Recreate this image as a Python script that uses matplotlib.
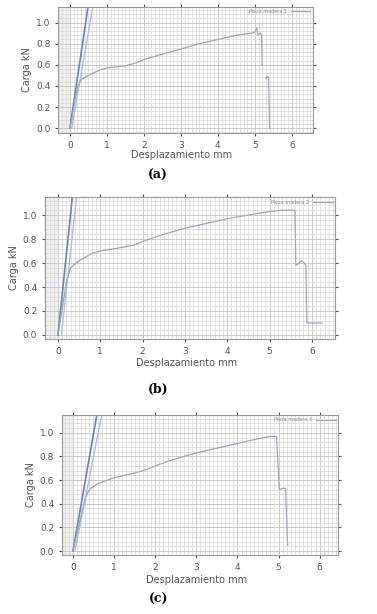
import numpy as np
import matplotlib.pyplot as plt
from matplotlib.ticker import MultipleLocator

# load-displacement curves
x_a = [0.0, 0.05, 0.1, 0.2, 0.3, 0.5, 0.8, 1.0, 1.2, 1.5, 1.8, 2.0, 2.5, 3.0,
       3.5, 4.0, 4.5, 4.9, 5.0, 5.05, 5.08, 5.15, 5.18, 5.2, 5.2]
y_a = [0.0, 0.08, 0.2, 0.38, 0.46, 0.50, 0.55, 0.57, 0.58, 0.59, 0.62, 0.65,
       0.70, 0.75, 0.80, 0.84, 0.88, 0.90, 0.91, 0.95, 0.88, 0.90, 0.88, 0.60, 0.60]
x_a2 = [5.3, 5.33, 5.37, 5.40]
y_a2 = [0.47, 0.49, 0.48, 0.0]

x_b = [0.0, 0.1, 0.2, 0.3, 0.5, 0.8, 1.0, 1.5, 1.8, 2.0, 2.5, 3.0, 3.5, 4.0,
       4.5, 5.0, 5.3, 5.6, 5.62, 5.7, 5.75, 5.82, 5.86, 5.88, 6.24]
y_b = [0.0, 0.22, 0.45, 0.56, 0.62, 0.68, 0.70, 0.73, 0.75, 0.78, 0.84, 0.89,
       0.93, 0.97, 1.00, 1.03, 1.04, 1.04, 0.58, 0.60, 0.62, 0.60, 0.58, 0.10, 0.10]

x_c = [0.0, 0.1, 0.2, 0.3, 0.4, 0.6, 1.0, 1.5, 1.8, 2.0, 2.5, 3.0, 3.5, 4.0,
       4.5, 4.8, 4.95, 5.02, 5.1, 5.17, 5.22]
y_c = [0.0, 0.15, 0.30, 0.45, 0.52, 0.57, 0.62, 0.66, 0.69, 0.72, 0.78, 0.83,
       0.87, 0.91, 0.95, 0.97, 0.97, 0.52, 0.53, 0.53, 0.05]

# initial stiffness lines (start, end)
stiff_a = ([0.0, 0.49], [0.05, 0.62])
stiff_b = ([0.0, 0.34], [0.08, 0.44])
stiff_c = ([0.0, 0.58], [0.05, 0.70])
stiff_y = [0.0, 1.15]

labels = ["Pieza madera 1", "Pieza madera 2", "Pieza madera 3"]
panels = ["(a)", "(b)", "(c)"]

fig = plt.figure(figsize=(3.77, 6.14), dpi=100)

boxes = [[0.154, 0.783, 0.676, 0.206],
         [0.119, 0.448, 0.770, 0.231],
         [0.164, 0.096, 0.733, 0.228]]
xlims = [(-0.32, 6.57), (-0.31, 6.55), (-0.27, 6.45)]
ylims = [(-0.048, 1.15), (-0.033, 1.15), (-0.034, 1.15)]
curves = [[(x_a, y_a), (x_a2, y_a2)], [(x_b, y_b)], [(x_c, y_c)]]
stiffs = [stiff_a, stiff_b, stiff_c]
xlab_y = [0.748, 0.409, 0.055]
panel_y = [0.715, 0.365, 0.024]

for i in range(3):
    ax = fig.add_axes(boxes[i])
    ax.set_xlim(*xlims[i])
    ax.set_ylim(*ylims[i])
    ax.axvspan(xlims[i][0], 0, color="#f0f0f0", zorder=0)

    ax.xaxis.set_major_locator(MultipleLocator(1))
    ax.xaxis.set_minor_locator(MultipleLocator(0.1))
    ax.yaxis.set_major_locator(MultipleLocator(0.2))
    ax.yaxis.set_minor_locator(MultipleLocator(0.04))
    ax.grid(which="major", color="#c4c4c4", linewidth=0.6)
    ax.grid(which="minor", color="#d8d8d8", linewidth=0.5)
    ax.set_axisbelow(True)

    dark, light = stiffs[i]
    ax.plot(dark, stiff_y, color="#7480a8", linewidth=1.2)
    ax.plot(light, stiff_y, color="#b4bed6", linewidth=1.0)

    for n, (xs, ys) in enumerate(curves[i]):
        ax.plot(xs, ys, color="#a0a6b4", linewidth=0.9,
                label=labels[i] if n == 0 else None)

    ax.legend(loc="upper right", fontsize=3.5, frameon=False,
              markerfirst=False, handlelength=4, borderaxespad=0.1,
              labelcolor="#888888")

    ax.yaxis.set_major_formatter(plt.FormatStrFormatter("%.1f"))
    ax.tick_params(which="major", labelsize=6.5, colors="#555555",
                   length=2, top=True, right=True, direction="out")
    ax.tick_params(which="minor", length=0)
    for s in ax.spines.values():
        s.set_color("#999999")
        s.set_linewidth(0.8)
    ax.set_ylabel("Carga kN", fontsize=7, color="#555555", labelpad=3)

    fig.text(boxes[i][0] + boxes[i][2] / 2 - 0.01, xlab_y[i],
             "Desplazamiento mm", ha="center", va="center",
             fontsize=7, color="#555555")
    fig.text(0.42, panel_y[i], panels[i], ha="center", va="center",
             fontsize=9, fontweight="bold", family="DejaVu Serif")

fig.savefig("out.png", dpi=100)
